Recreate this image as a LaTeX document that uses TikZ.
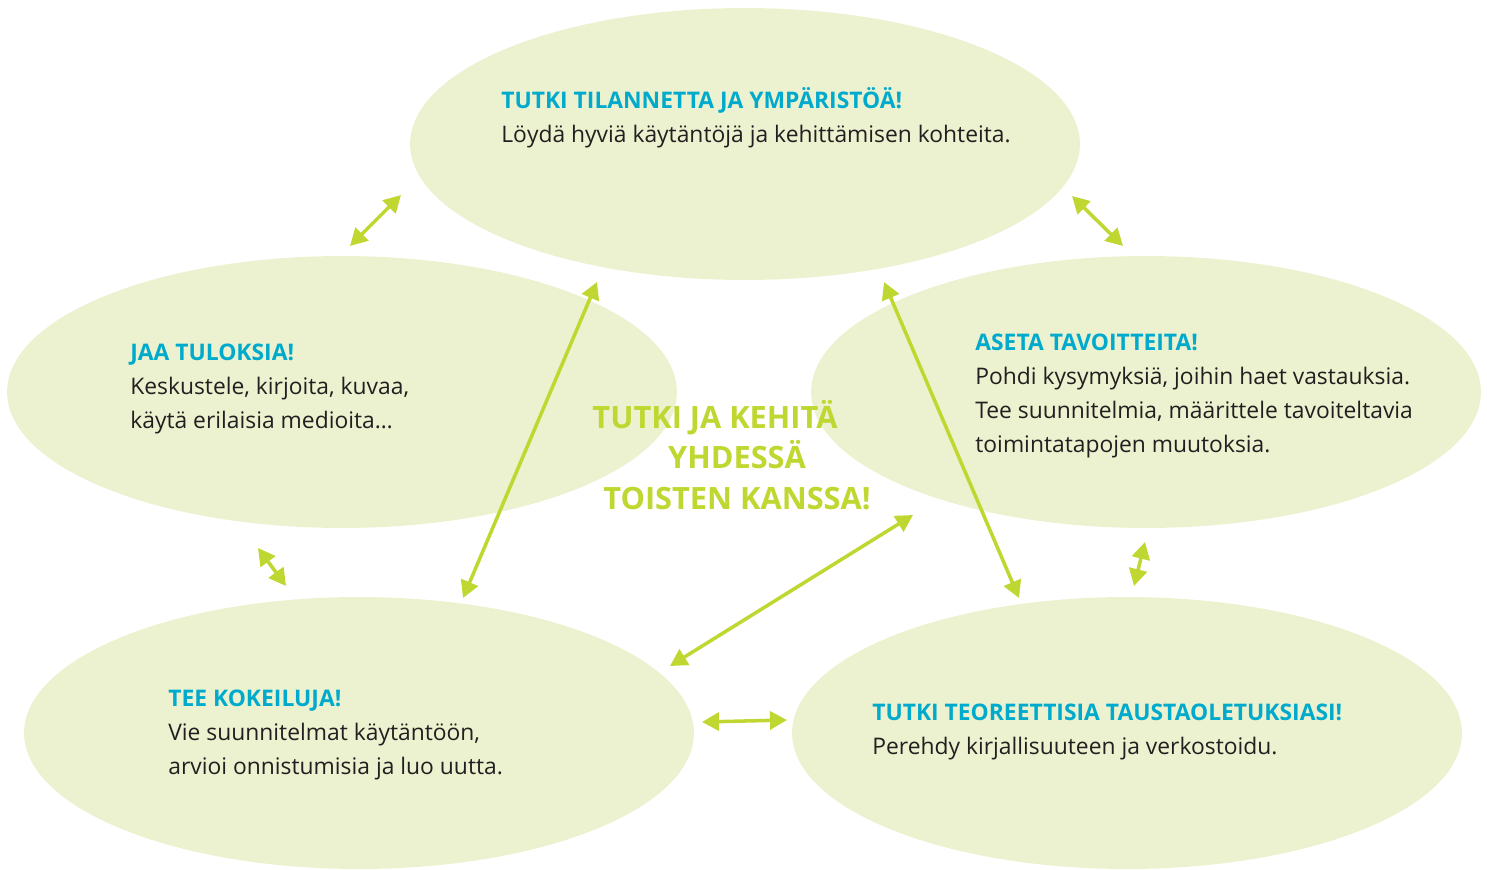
\documentclass[tikz,border=0pt]{standalone}
\usepackage{fontspec}
\setmainfont{Open Sans}
\usetikzlibrary{shapes.geometric,arrows.meta}
\definecolor{leaf}{HTML}{ECF2CF}
\definecolor{lime}{HTML}{BFD730}
\definecolor{headcyan}{HTML}{00AACD}
\definecolor{ink}{HTML}{231F20}
\tikzstyle{cloud} = [ellipse, fill=leaf, inner sep=0pt,
    minimum width=13.4cm, minimum height=5.44cm]
\tikzstyle{txt} = [anchor=base west, align=left, inner sep=0pt, text=ink,
    font=\fontsize{13}{19.35}\selectfont]
\tikzstyle{motto} = [anchor=base, align=center, inner sep=0pt, text=lime,
    font=\fontsize{17.5}{22.8}\selectfont\bfseries]
\tikzstyle{biArrow} = [draw=lime, line width=2pt,
    {Triangle[length=0.34cm,width=0.36cm]}-{Triangle[length=0.34cm,width=0.36cm]}]
\newcommand{\head}[1]{\textcolor{headcyan}{\bfseries #1}}

\begin{document}
\begin{tikzpicture}[x=0.02cm, y=-0.02cm]
\useasboundingbox (0,0) rectangle (1487,869);
% Ellipses
	\node [cloud] (explore) at (745,144) {};
	\node [cloud] (share) at (342,392) {};
	\node [cloud] (goals) at (1146,392) {};
	\node [cloud] (trials) at (359,733) {};
	\node [cloud] (theory) at (1127,733) {};
% Texts (anchored at the last line)
	\node [txt] (exploreT) at (501,142) {\head{TUTKI TILANNETTA JA YMPÄRISTÖÄ!}\\
		Löydä hyviä käytäntöjä ja kehittämisen kohteita.};
	\node [txt] (shareT) at (130,428) {\head{JAA TULOKSIA!}\\
		Keskustele, kirjoita, kuvaa,\\
		käytä erilaisia medioita…};
	\node [txt] (goalsT) at (975,452) {\head{ASETA TAVOITTEITA!}\\
		Pohdi kysymyksiä, joihin haet vastauksia.\\
		Tee suunnitelmia, määrittele tavoiteltavia\\
		toimintatapojen muutoksia.};
	\node [txt] (trialsT) at (168,774) {\head{TEE KOKEILUJA!}\\
		Vie suunnitelmat käytäntöön,\\
		arvioi onnistumisia ja luo uutta.};
	\node [txt] (theoryT) at (872,754) {\head{TUTKI TEOREETTISIA TAUSTAOLETUKSIASI!}\\
		Perehdy kirjallisuuteen ja verkostoidu.};
	\node [motto] (together) at (737,509) {\hbox to 0pt{\hss TUTKI JA KEHITÄ\hspace{0.88cm}\hss}\\
		YHDESSÄ\\
		TOISTEN KANSSA!};
% Arrow ends
	\coordinate (a1s) at (350,246);  \coordinate (a1e) at (401,195);
	\coordinate (a2s) at (1072,196); \coordinate (a2e) at (1123,246);
	\coordinate (a3s) at (258,548);  \coordinate (a3e) at (286,586);
	\coordinate (a4s) at (1145,542); \coordinate (a4e) at (1134,586);
	\coordinate (a5s) at (702,722);  \coordinate (a5e) at (787,720);
	\coordinate (a6s) at (597,282);  \coordinate (a6e) at (463,598);
	\coordinate (a7s) at (884,282);  \coordinate (a7e) at (1019,598);
	\coordinate (a8s) at (913,515);  \coordinate (a8e) at (670,666);
% Connections
	\draw [biArrow] (a1s) -- (a1e);
	\draw [biArrow] (a2s) -- (a2e);
	\draw [biArrow] (a3s) -- (a3e);
	\draw [biArrow] (a4s) -- (a4e);
	\draw [biArrow] (a5s) -- (a5e);
	\draw [biArrow] (a6s) -- (a6e);
	\draw [biArrow] (a7s) -- (a7e);
	\draw [biArrow] (a8s) -- (a8e);
\end{tikzpicture}
\end{document}
